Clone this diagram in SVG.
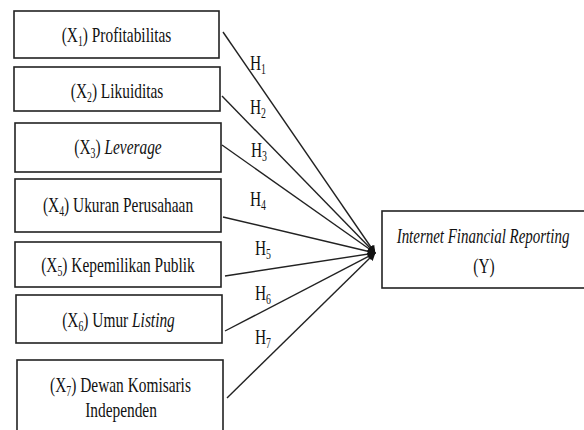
<svg xmlns="http://www.w3.org/2000/svg" width="584" height="430" viewBox="0 0 584 430">
<style>
.box{fill:#fff;stroke:#222;stroke-width:1.6}
.t{font-family:"Liberation Serif","Times New Roman",serif;font-size:22px;fill:#111;text-anchor:middle}
.h{font-family:"Liberation Serif","Times New Roman",serif;font-size:22px;fill:#111}
.sub{font-size:14px}
.conn line{stroke:#222;stroke-width:1.4;marker-end:url(#ah)}
</style>
<defs>
<marker id="ah" viewBox="0 0 10 10" refX="9" refY="5" markerWidth="8" markerHeight="8" markerUnits="userSpaceOnUse" orient="auto">
<path d="M0,0 L10,5 L0,10 z" fill="#111"/>
</marker>
</defs>
<rect width="584" height="430" fill="#fff"/>
<g id="x1"><rect class="box" x="14" y="11" width="205" height="47"/>
<text class="t" transform="translate(116.5,42) scale(0.7,1)">(X<tspan class="sub" dy="4">1</tspan><tspan dy="-4">) Profitabilitas</tspan></text></g>
<g id="x2"><rect class="box" x="14" y="67" width="206" height="44"/>
<text class="t" transform="translate(117,98) scale(0.7,1)">(X<tspan class="sub" dy="4">2</tspan><tspan dy="-4">) Likuiditas</tspan></text></g>
<g id="x3"><rect class="box" x="15" y="123" width="206" height="49"/>
<text class="t" transform="translate(118,154) scale(0.7,1)">(X<tspan class="sub" dy="4">3</tspan><tspan dy="-4">) </tspan><tspan font-style="italic">Leverage</tspan></text></g>
<g id="x4"><rect class="box" x="15" y="179" width="206" height="53"/>
<text class="t" transform="translate(118,212) scale(0.7,1)">(X<tspan class="sub" dy="4">4</tspan><tspan dy="-4">) Ukuran Perusahaan</tspan></text></g>
<g id="x5"><rect class="box" x="15" y="242" width="206" height="45"/>
<text class="t" transform="translate(118,272) scale(0.7,1)">(X<tspan class="sub" dy="4">5</tspan><tspan dy="-4">) Kepemilikan Publik</tspan></text></g>
<g id="x6"><rect class="box" x="16" y="295" width="206" height="48"/>
<text class="t" transform="translate(118.5,327) scale(0.7,1)">(X<tspan class="sub" dy="4">6</tspan><tspan dy="-4">) Umur </tspan><tspan font-style="italic">Listing</tspan></text></g>
<g id="x7"><rect class="box" x="17" y="360" width="206" height="74"/>
<text class="t" transform="translate(120.5,392) scale(0.7,1)">(X<tspan class="sub" dy="4">7</tspan><tspan dy="-4">) Dewan Komisaris</tspan></text>
<text class="t" transform="translate(121,417) scale(0.7,1)">Independen</text></g>
<g id="y"><rect class="box" x="382" y="211" width="203" height="77"/>
<text class="t" font-style="italic" transform="translate(483,243) scale(0.68,1)">Internet Financial Reporting</text>
<text class="t" transform="translate(484,273) scale(0.7,1)">(Y)</text></g>
<g class="conn" id="connectors">
<line x1="223" y1="32" x2="375" y2="253"/>
<line x1="222" y1="96" x2="375" y2="253"/>
<line x1="222" y1="145" x2="375" y2="253"/>
<line x1="223" y1="217" x2="375" y2="253"/>
<line x1="225" y1="276" x2="375" y2="253"/>
<line x1="225" y1="331" x2="375" y2="253"/>
<line x1="227" y1="398" x2="375" y2="253"/>
</g>
<g id="labels">
<text class="h" transform="translate(250,70) scale(0.7,1)">H<tspan class="sub" dy="4">1</tspan></text>
<text class="h" transform="translate(250,114) scale(0.7,1)">H<tspan class="sub" dy="4">2</tspan></text>
<text class="h" transform="translate(251,157) scale(0.7,1)">H<tspan class="sub" dy="4">3</tspan></text>
<text class="h" transform="translate(250,206) scale(0.7,1)">H<tspan class="sub" dy="4">4</tspan></text>
<text class="h" transform="translate(255,255) scale(0.7,1)">H<tspan class="sub" dy="4">5</tspan></text>
<text class="h" transform="translate(255,300) scale(0.7,1)">H<tspan class="sub" dy="4">6</tspan></text>
<text class="h" transform="translate(255,344) scale(0.7,1)">H<tspan class="sub" dy="4">7</tspan></text>
</g>
</svg>
